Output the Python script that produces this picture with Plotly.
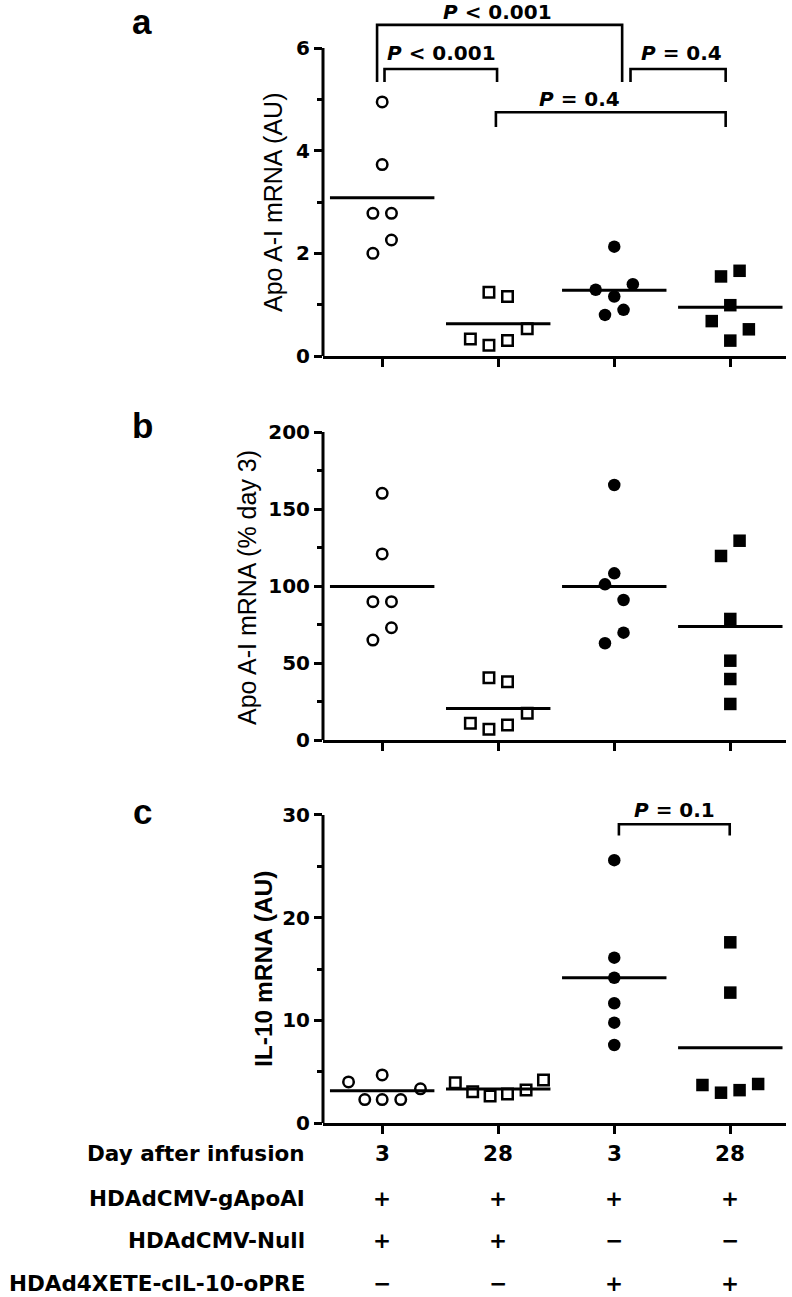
import plotly.graph_objects as go
import numpy as np

# ---------------- data ----------------
groups = [1, 2, 3, 4]
day_labels = ["3", "28", "3", "28"]
row_labels = ["Day after infusion", "HDAdCMV-gApoAI", "HDAdCMV-Null", "HDAd4XETE-cIL-10-oPRE"]
row_gapoai = ["+", "+", "+", "+"]
row_null = ["+", "+", "\u2212", "\u2212"]
row_il10 = ["\u2212", "\u2212", "+", "+"]

# panel a: Apo A-I mRNA (AU)
a_g1 = [4.95, 3.73, 2.78, 2.78, 2.26, 2.00]
a_g2 = [1.24, 1.16, 0.53, 0.33, 0.30, 0.21]
a_g3 = [2.13, 1.40, 1.29, 1.16, 0.90, 0.80]
a_g4 = [1.66, 1.55, 0.99, 0.68, 0.52, 0.30]

# panel b: Apo A-I mRNA (% day 3)
b_g1 = [160.2, 120.8, 89.8, 89.8, 72.9, 64.9]
b_g2 = [40.5, 37.9, 17.3, 10.8, 9.7, 6.9]
b_g3 = [165.6, 108.2, 101.1, 90.9, 69.7, 62.8]
b_g4 = [129.4, 119.5, 78.6, 51.5, 39.6, 23.4]

# panel c: IL-10 mRNA (AU)
c_g1 = [4.00, 4.68, 3.33, 2.28, 2.28, 2.28]
c_g2 = [3.93, 3.05, 2.63, 2.82, 3.21, 4.19]
c_g3 = [25.6, 16.1, 14.15, 11.66, 9.77, 7.60]
c_g4 = [17.6, 12.7, 3.70, 2.95, 3.20, 3.80]

# p-value labels
p_a = ["<i>P</i> &lt; 0.001", "<i>P</i> &lt; 0.001", "<i>P</i> = 0.4", "<i>P</i> = 0.4"]
p_c = ["<i>P</i> = 0.1"]

# ---------------- layout helpers (positions/styles) ----------------
W, H = 792, 1297
def py(px):
    return 1 - px / H

# horizontal scatter offsets of the dot plot (layout only)
off_a = [[0, 0, -0.08, 0.08, 0.08, -0.08],
         [-0.08, 0.08, 0.25, -0.24, 0.08, -0.08],
         [0, 0.16, -0.16, 0, 0.08, -0.08],
         [0.08, -0.08, 0, -0.16, 0.16, 0]]
off_b = [[0, 0, -0.08, 0.08, 0.08, -0.08],
         [-0.08, 0.08, 0.25, -0.24, 0.08, -0.08],
         [0, 0, -0.08, 0.08, 0.08, -0.08],
         [0.08, -0.08, 0, 0, 0, 0]]
off_c = [[-0.29, 0, 0.33, -0.15, 0, 0.16],
         [-0.37, -0.22, -0.07, 0.08, 0.24, 0.39],
         [0, 0, 0, 0, 0, 0],
         [0, 0, -0.24, -0.08, 0.08, 0.24]]

symbols = [
    dict(symbol="circle-open", size=10.5, line=dict(width=2.5, color="black"), color="black"),
    dict(symbol="square-open", size=10.5, line=dict(width=2.5, color="black"), color="black"),
    dict(symbol="circle", size=12.5, color="black", line=dict(width=0)),
    dict(symbol="square", size=12.5, color="black", line=dict(width=0)),
]

FONT = "Liberation Sans, Arial, sans-serif"
WIDE = "DejaVu Sans, Verdana, sans-serif"
fig = go.Figure()

panels = [
    ("x", "y", [a_g1, a_g2, a_g3, a_g4], off_a),
    ("x2", "y2", [b_g1, b_g2, b_g3, b_g4], off_b),
    ("x3", "y3", [c_g1, c_g2, c_g3, c_g4], off_c),
]
for xr, yr, vals, offs in panels:
    for g, v, o, m in zip(groups, vals, offs, symbols):
        fig.add_trace(go.Scatter(x=[g + d for d in o], y=v, mode="markers",
                                 marker=m, xaxis=xr, yaxis=yr, cliponaxis=False,
                                 hoverinfo="skip"))
        mu = float(np.mean(v))
        fig.add_trace(go.Scatter(x=[g - 0.45, g + 0.45], y=[mu, mu], mode="lines",
                                 line=dict(color="black", width=3), xaxis=xr, yaxis=yr,
                                 hoverinfo="skip"))

# brackets
def bracket(xr, yr, x0, x1, ytop, yb0, yb1):
    fig.add_trace(go.Scatter(x=[x0, x0, x1, x1], y=[yb0, ytop, ytop, yb1], mode="lines",
                             line=dict(color="black", width=2.6), xaxis=xr, yaxis=yr,
                             hoverinfo="skip"))

bracket("x", "y", 0.956, 3.068, 6.45, 5.34, 5.34)
bracket("x", "y", 1.02, 1.99, 5.59, 5.34, 5.34)
bracket("x", "y", 3.14, 3.96, 5.59, 5.34, 5.34)
bracket("x", "y", 1.98, 3.96, 4.75, 4.46, 4.46)
bracket("x3", "y3", 3.04, 3.995, 29.1, 28.0, 28.0)

ann = []
pfont = dict(family=WIDE, size=20, color="black", weight="bold")
for txt, x, y in zip(p_a, [1.99, 1.51, 3.58, 2.70], [6.70, 5.90, 5.90, 5.01]):
    ann.append(dict(text=txt, x=x, y=y, xref="x", yref="y", showarrow=False,
                    font=pfont, xanchor="center", yanchor="middle"))
ann.append(dict(text=p_c[0], x=3.52, y=30.5, xref="x3", yref="y3", showarrow=False,
                font=pfont, xanchor="center", yanchor="middle"))

# panel letters
lfont = dict(family=FONT, size=35, color="black", weight="bold")
ann.append(dict(text="a", x=142 / W, y=1, xref="paper", yref="paper", showarrow=False,
                font=lfont, xanchor="center", yanchor="top"))
for t, ypx in [("b", 425), ("c", 812)]:
    ann.append(dict(text=t, x=142 / W, y=py(ypx), xref="paper", yref="paper", showarrow=False,
                    font=lfont, xanchor="center", yanchor="middle"))

# y-axis titles
titles = [("Apo A-I mRNA (AU)", 273, 202, "normal", 25),
          ("Apo A-I mRNA (% day 3)", 247, 588, "normal", 25),
          ("IL-10 mRNA (AU)", 263, 969, "bold", 24.5)]
for t, xpx, ypx, wgt, sz in titles:
    ann.append(dict(text=t, x=xpx / W, y=py(ypx), xref="paper", yref="paper", showarrow=False,
                    textangle=-90, font=dict(family=FONT, size=sz, color="black", weight=wgt),
                    xanchor="center", yanchor="middle"))

# table below panel c
tfont = dict(family=WIDE, size=21.5, color="black", weight="bold")
row_y = [1153, 1198, 1240, 1283]
rows = [day_labels, row_gapoai, row_null, row_il10]
for lab, ypx, cells in zip(row_labels, row_y, rows):
    ann.append(dict(text=lab, x=307 / W, y=py(ypx), xref="paper", yref="paper", showarrow=False,
                    font=tfont, xanchor="right", yanchor="middle"))
    for g, c in zip(groups, cells):
        ann.append(dict(text=c, x=g, y=py(ypx), xref="x3", yref="paper", showarrow=False,
                        font=tfont, xanchor="center", yanchor="middle"))

# axis lines (y) drawn up to the last tick only
shapes = []
for yr, top in [("y", 6), ("y2", 200), ("y3", 30)]:
    xr = {"y": "x", "y2": "x2", "y3": "x3"}[yr]
    shapes.append(dict(type="line", xref=xr + " domain", x0=0, x1=0, yref=yr, y0=0, y1=top,
                       line=dict(color="black", width=3)))

xdom = [323 / W, 786 / W]
xcommon = dict(domain=xdom, range=[0.49, 4.48], showline=True, linewidth=3, linecolor="black",
               ticks="outside", ticklen=8, tickwidth=2.5, tickcolor="black",
               tickmode="array", tickvals=groups, showticklabels=False,
               showgrid=False, zeroline=False, fixedrange=True, automargin=False)
tickf = dict(family=WIDE, size=20, color="black", weight="bold")

def ycommon(dom, rng, tv, mv, anchor):
    return dict(domain=dom, range=rng, showline=False, ticks="outside", ticklen=8, tickwidth=2.5,
                tickcolor="black", tickmode="array", tickvals=tv, tickfont=tickf,
                minor=dict(tickmode="array", tickvals=mv, ticks="outside", ticklen=5,
                           tickwidth=2.5, tickcolor="black", showgrid=False),
                showgrid=False, zeroline=False, anchor=anchor, fixedrange=True,
                automargin=False)

fig.update_layout(
    width=W, height=H, margin=dict(l=0, r=0, t=0, b=0, autoexpand=False),
    paper_bgcolor="white", plot_bgcolor="white", showlegend=False,
    xaxis=dict(xcommon, anchor="y"),
    xaxis2=dict(xcommon, anchor="y2"),
    xaxis3=dict(xcommon, anchor="y3"),
    yaxis=ycommon([py(356), 1], [0, 356 / 51.33], [0, 2, 4, 6], [1, 3, 5], "x"),
    yaxis2=ycommon([py(740), py(432)], [0, 200], [0, 50, 100, 150, 200], [25, 75, 125, 175], "x2"),
    yaxis3=ycommon([py(1123), py(794)], [0, 329 / 10.267], [0, 10, 20, 30], [5, 15, 25], "x3"),
    annotations=ann, shapes=shapes,
)

fig.write_html("out.html", config={"displayModeBar": False},
               post_script="document.body.style.margin='0px';document.body.style.overflow='hidden';")
